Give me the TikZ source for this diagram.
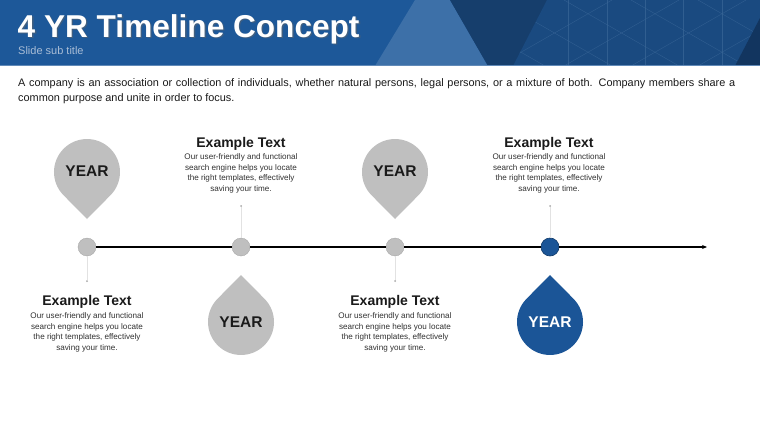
\documentclass[tikz,border=0pt]{standalone}
\usepackage{fontspec}
\usetikzlibrary{arrows.meta}
\setmainfont{Liberation Sans}
\definecolor{hdrblue}{HTML}{1D5899}
\definecolor{hdrlight}{HTML}{3D70A8}
\definecolor{hdrdark}{HTML}{163E6C}
\definecolor{hdrmid}{HTML}{1A4A80}
\definecolor{hdrcorner}{HTML}{12355F}
\definecolor{gridc}{HTML}{3A6798}
\definecolor{pingray}{HTML}{BFBFBF}
\definecolor{pinblue}{HTML}{1B5597}
\definecolor{subgray}{HTML}{A9BDD6}
\definecolor{txt}{HTML}{1A1A1A}
\definecolor{lightline}{HTML}{E2E2E2}
\tikzset{
  dotnode/.style={circle,minimum size=18pt,inner sep=0pt,fill=pingray,draw=pingray!85!black,line width=0.3pt},
  bluedot/.style={dotnode,fill=pinblue,draw=pinblue!70!black,line width=0.6pt},
  yeartext/.style={font=\bfseries\fontsize{15.5}{18}\selectfont,text=txt},
  headtext/.style={font=\bfseries\fontsize{14}{16}\selectfont,text=txt},
  bodytext/.style={font=\fontsize{8.1}{10.4}\selectfont,text=txt!90,align=center},
  stem/.style={draw=lightline,line width=0.9pt},
  enddot/.style={circle,minimum size=2pt,inner sep=0pt,fill=gray!70},
}
\begin{document}
\begin{tikzpicture}[x=1pt,y=-1pt]
\useasboundingbox (0,0) rectangle (760,428);
\fill[white] (0,0) rectangle (760,428);
% header
\fill[hdrblue] (0,0) rectangle (760,66);
\fill[hdrlight] (375,66) -- (415,0) -- (450,0) -- (488,66) -- cycle;
\fill[hdrdark] (450,0) -- (760,0) -- (760,66) -- (488,66) -- cycle;
\fill[hdrmid] (547,0) -- (760,0) -- (760,66) -- (513,66) -- cycle;
\begin{scope}
\clip (513,66) -- (547,0) -- (760,0) -- (760,66) -- cycle;
\foreach \gx in {568,607,645,683,722} {\draw[gridc,line width=0.4pt,opacity=0.7] (\gx,0) -- (\gx,66);}
\foreach \gx in {430,497,564,631,698,765} {
  \draw[gridc,line width=0.4pt,opacity=0.7] (\gx,0) -- (\gx+115,66);
  \draw[gridc,line width=0.4pt,opacity=0.7] (\gx,66) -- (\gx+115,0);
}
\end{scope}
\fill[hdrcorner] (735,66) -- (760,18) -- (760,66) -- cycle;
\fill[hdrblue!70!white] (0,65) rectangle (760,66.5);
\node[anchor=west,inner sep=0pt,text=black!60,opacity=0.5,font=\bfseries\fontsize{31.6}{34}\selectfont] at (18.8,30.3) {4 YR Timeline Concept};
\node (title) [anchor=west,inner sep=0pt,text=white,font=\bfseries\fontsize{31.6}{34}\selectfont] at (17.5,29) {4 YR Timeline Concept};
\node (subtitle) [anchor=west,inner sep=0pt,text=subgray,font=\fontsize{11}{13}\selectfont] at (18,51) {Slide sub title};
% paragraph
\node (para) [anchor=north west,inner sep=0pt,text width=717pt,align=justify,text=txt,font=\fontsize{10.9}{15}\selectfont] at (18,78.5)
 {A company is an association or collection of individuals, whether natural persons, legal persons, or a mixture of both. Company members share a common purpose and unite in order to focus.};
% top pins
\fill[pingray] (87,219) -- (63.5,195.2) arc[start angle=135.4,end angle=404.6,radius=33] -- cycle;
\fill[pingray] (395,219) -- (371.5,195.2) arc[start angle=135.4,end angle=404.6,radius=33] -- cycle;
% bottom pins
\fill[pingray] (241,275) -- (264.5,298.8) arc[start angle=315.4,end angle=584.6,radius=33] -- cycle;
\fill[pinblue] (550,275) -- (573.5,298.8) arc[start angle=315.4,end angle=584.6,radius=33] -- cycle;
\node (y1) [yeartext] at (87,171) {YEAR};
\node (y3) [yeartext] at (395,171) {YEAR};
\node (y2) [yeartext] at (241,322) {YEAR};
\node (y4) [yeartext,text=white] at (550,322) {YEAR};
% timeline
\node (c1) [dotnode] at (87,247) {};
\node (c2) [dotnode] at (241,247) {};
\node (c3) [dotnode] at (395,247) {};
\node (c4) [bluedot] at (550,247) {};
\coordinate (tend) at (707,247);
\draw[line width=1.1pt] (c1) -- (c2);
\draw[line width=1.1pt] (c2) -- (c3);
\draw[line width=1.1pt] (c3) -- (c4);
\draw[line width=1.1pt,-{Stealth[length=5pt,width=4pt]}] (c4) -- (tend);
% stems
\node (d1) [enddot] at (87,281) {};
\node (d2) [enddot] at (241,206) {};
\node (d3) [enddot] at (395,281) {};
\node (d4) [enddot] at (550,206) {};
\draw[stem] (c1) -- (d1);
\draw[stem] (c2) -- (d2);
\draw[stem] (c3) -- (d3);
\draw[stem] (c4) -- (d4);
% texts
\node (h2) [headtext] at (241,144) {Example Text};
\node (b2) [bodytext] at (241,173.5) {Our user-friendly and functional\\search engine helps you locate\\the right templates, effectively\\saving your time.};
\node (h4) [headtext] at (549,144) {Example Text};
\node (b4) [bodytext] at (549,173.5) {Our user-friendly and functional\\search engine helps you locate\\the right templates, effectively\\saving your time.};
\node (h1) [headtext] at (87,302) {Example Text};
\node (b1) [bodytext] at (87,332.5) {Our user-friendly and functional\\search engine helps you locate\\the right templates, effectively\\saving your time.};
\node (h3) [headtext] at (395,302) {Example Text};
\node (b3) [bodytext] at (395,332.5) {Our user-friendly and functional\\search engine helps you locate\\the right templates, effectively\\saving your time.};
\end{tikzpicture}
\end{document}
